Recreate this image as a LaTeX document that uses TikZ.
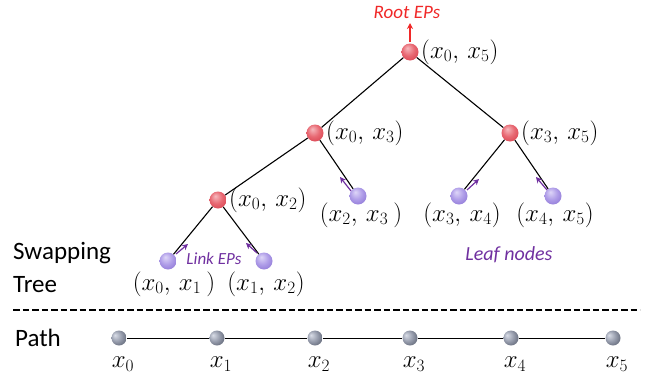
\documentclass[tikz,border=0pt]{standalone}
\usepackage{fontspec}
\setmainfont{Carlito}
\usetikzlibrary{arrows.meta}
\definecolor{rA}{RGB}{246,185,190}
\definecolor{rB}{RGB}{232,105,115}
\definecolor{rC}{RGB}{215,62,76}
\definecolor{rD}{RGB}{195,48,62}
\definecolor{uA}{RGB}{222,214,248}
\definecolor{uB}{RGB}{175,157,232}
\definecolor{uC}{RGB}{138,114,212}
\definecolor{uD}{RGB}{118,95,195}
\definecolor{gA}{RGB}{218,222,232}
\definecolor{gB}{RGB}{150,156,172}
\definecolor{gC}{RGB}{88,94,110}
\definecolor{gD}{RGB}{58,64,80}
\pgfdeclareradialshading{redball}{\pgfpoint{-8bp}{12bp}}{color(0bp)=(rA); color(18bp)=(rB); color(36bp)=(rC); color(50bp)=(rD)}
\pgfdeclareradialshading{purball}{\pgfpoint{-8bp}{12bp}}{color(0bp)=(uA); color(18bp)=(uB); color(36bp)=(uC); color(50bp)=(uD)}
\pgfdeclareradialshading{grayball}{\pgfpoint{-14bp}{10bp}}{color(0bp)=(gA); color(18bp)=(gB); color(36bp)=(gC); color(50bp)=(gD)}
\definecolor{txtred}{RGB}{240,40,40}
\definecolor{txtpur}{RGB}{112,48,160}
\tikzset{
  inner/.style={circle,inner sep=0pt,minimum size=17pt,shading=redball},
  leaf/.style={circle,inner sep=0pt,minimum size=17pt,shading=purball},
  pnode/.style={circle,inner sep=0pt,minimum size=15pt,shading=grayball},
  tlabel/.style={inner sep=0pt,font=\fontsize{23}{27}\selectfont},
  side/.style={inner sep=0pt,font=\fontsize{25}{29}\selectfont},
  edge/.style={draw=black,line width=1.1pt},
  linkarrow/.style={draw=txtpur,line width=1.2pt,-{Stealth[length=6pt,width=6pt]}},
  rootarrow/.style={draw=txtred,line width=1.2pt,-{Stealth[length=6pt,width=6pt]}},
  note/.style={inner sep=0pt,font=\fontsize{19}{22}\selectfont\itshape}
}
\begin{document}
\begin{tikzpicture}[x=1pt,y=-1pt]
\useasboundingbox (0,0) rectangle (654,378);
% tree nodes
\node[inner] (r) at (410,52) {};
\node[inner] (a) at (315,133) {};
\node[inner] (b) at (510,133) {};
\node[inner] (c) at (218,200) {};
\node[leaf] (l23) at (358,196) {};
\node[leaf] (l34) at (459,196) {};
\node[leaf] (l45) at (553,196) {};
\node[leaf] (l01) at (168,261) {};
\node[leaf] (l12) at (264,261) {};
% edges
\draw[edge] (r) -- (a);
\draw[edge] (r) -- (b);
\draw[edge] (a) -- (c);
\draw[edge] (a) -- (l23);
\draw[edge] (b) -- (l34);
\draw[edge] (b) -- (l45);
\draw[edge] (c) -- (l01);
\draw[edge] (c) -- (l12);
% labels of inner nodes
\node[tlabel,anchor=west] (rl) at (421,52) {$(x_0,\,x_5)$};
\node[tlabel,anchor=west] (al) at (326,133) {$(x_0,\,x_3)$};
\node[tlabel,anchor=west] (bl) at (521,133) {$(x_3,\,x_5)$};
\node[tlabel,anchor=west] (cl) at (229,200) {$(x_0,\,x_2)$};
% leaf labels
\node[tlabel] (l23l) at (361,215) {$(x_2,\,x_3\ )$};
\node[tlabel] (l34l) at (462,215) {$(x_3,\,x_4)$};
\node[tlabel] (l45l) at (555,215) {$(x_4,\,x_5)$};
\node[tlabel] (l01l) at (174,284) {$(x_0,\,x_1\ )$};
\node[tlabel] (l12l) at (266,284) {$(x_1,\,x_2)$};
% root EPs
\node[note,text=txtred] (rootep) at (407,12) {Root EPs};
\coordinate (rtop) at (410,23);
\draw[rootarrow] (r.north) ++(0,-1) -- (rtop);
% link arrows
\draw[linkarrow] (176,254) -- (188,244);
\draw[linkarrow] (257,253) -- (246,243);
\draw[linkarrow] (351,191) -- (340,177);
\draw[linkarrow] (467,190) -- (479,179);
\draw[linkarrow] (547,190) -- (536,177);
\node[note,text=txtpur,font=\fontsize{17}{20}\selectfont\itshape] (linkep) at (214,259) {Link EPs};
\node[note,text=txtpur,font=\fontsize{20}{23}\selectfont\itshape] (leafn) at (509,255) {Leaf nodes};
% side labels
\node[side,anchor=west] (swap) at (13,253) {Swapping};
\node[side,anchor=west] (tree) at (13,285) {Tree};
\node[side,anchor=west] (path) at (15,338) {Path};
% dashed separator
\coordinate (d1) at (13,310);
\coordinate (d2) at (640,310);
\draw[line width=1.4pt,dash pattern=on 6.5pt off 3pt] (d1) -- (d2);
% path
\foreach \i/\xx in {0/119,1/217,2/315,3/410,4/511,5/613}{
  \node[pnode] (p\i) at (\xx,338) {};
}
\draw[edge,line width=0.9pt] (p0) -- (p1);
\draw[edge,line width=0.9pt] (p1) -- (p2);
\draw[edge,line width=0.9pt] (p2) -- (p3);
\draw[edge,line width=0.9pt] (p3) -- (p4);
\draw[edge,line width=0.9pt] (p4) -- (p5);
\foreach \i in {0,...,5}{
  \node[tlabel] (pl\i) at ([xshift=4pt]p\i |- 0,364) {$x_\i$};
}
\end{tikzpicture}
\end{document}
